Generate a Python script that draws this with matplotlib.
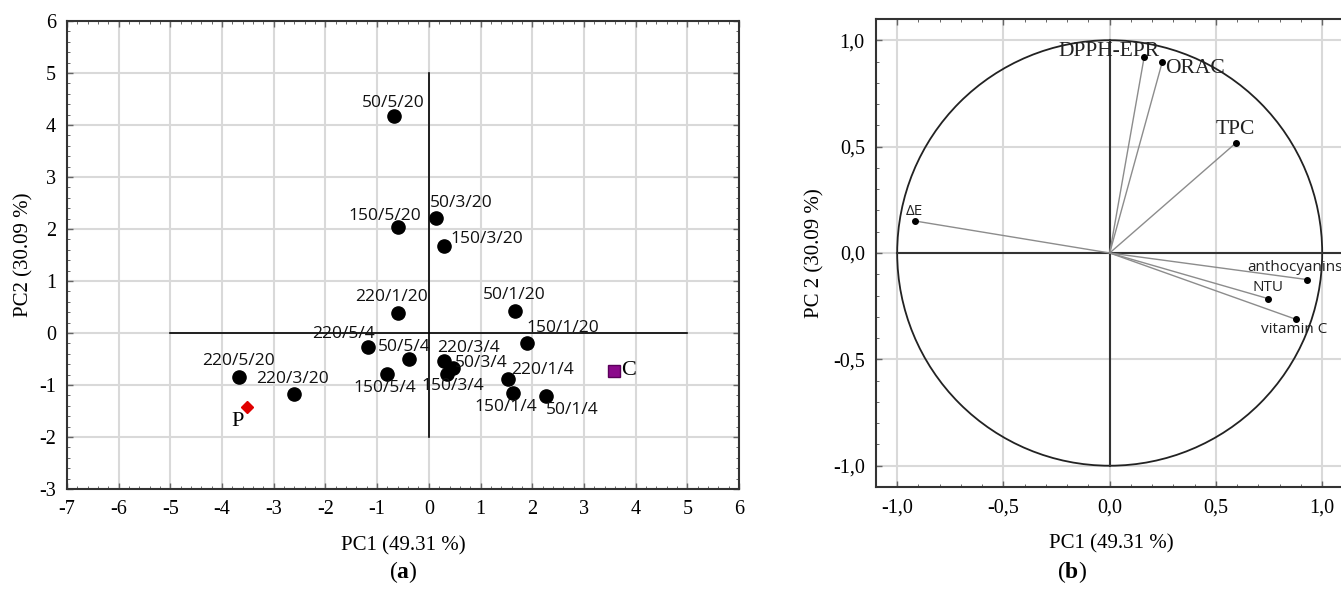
import numpy as np
import matplotlib
matplotlib.use("Agg")
import matplotlib.pyplot as plt
from matplotlib.patches import Circle
from matplotlib.ticker import MultipleLocator, FuncFormatter

plt.rcParams['axes.unicode_minus'] = False
plt.rcParams['mathtext.fontset'] = 'custom'
plt.rcParams['mathtext.rm'] = 'Liberation Serif'
plt.rcParams['mathtext.bf'] = 'Liberation Serif:bold'

SERIF = 'Liberation Serif'
SANS = 'Open Sans'

# ---- data: scores (panel a) ----
sample_names = ['50/5/20', '150/5/20', '50/3/20', '150/3/20', '220/1/20', '50/1/20',
                '150/1/20', '220/5/4', '50/5/4', '150/5/4', '220/3/4', '50/3/4',
                '150/3/4', '220/1/4', '150/1/4', '50/1/4', '220/5/20', '220/3/20']
pc1_scores = [-0.68, -0.60, 0.14, 0.30, -0.59, 1.67, 1.89, -1.18, -0.38, -0.80,
              0.29, 0.46, 0.36, 1.54, 1.63, 2.26, -3.68, -2.60]
pc2_scores = [4.17, 2.04, 2.21, 1.68, 0.39, 0.43, -0.20, -0.26, -0.50, -0.79,
              -0.53, -0.68, -0.78, -0.88, -1.15, -1.21, -0.85, -1.17]
# label anchor points (data units) and alignment
label_x = [-0.69, -0.85, 0.02, 0.41, -0.72, 1.66, 1.89, -1.66, -0.99, -0.85,
           0.77, 1.01, 0.46, 2.19, 1.49, 2.78, -3.68, -2.63]
label_y = [4.43, 2.25, 2.50, 1.81, 0.70, 0.73, 0.09, -0.01, -0.26, -1.05,
           -0.28, -0.58, -1.02, -0.71, -1.42, -1.48, -0.53, -0.89]
label_ha = ['center', 'center', 'left', 'left', 'center', 'center', 'left', 'center',
            'left', 'center', 'center', 'center', 'center', 'center', 'center',
            'center', 'center', 'center']

p_point = (-3.52, -1.42)
c_point = (3.58, -0.73)

# ---- data: loadings (panel b) ----
var_names = ['DPPH-EPR', 'ORAC', 'TPC', 'ΔE', 'anthocyanins', 'NTU', 'vitamin C']
pc1_load = [0.162, 0.248, 0.596, -0.914, 0.929, 0.747, 0.877]
pc2_load = [0.920, 0.900, 0.519, 0.150, -0.125, -0.215, -0.312]
var_lx = [0.235, 0.26, 0.593, -0.92, 0.645, 0.745, 0.87]
var_ly = [0.945, 0.867, 0.58, 0.197, -0.066, -0.163, -0.36]
var_ha = ['right', 'left', 'center', 'center', 'left', 'center', 'center']
var_font = [SERIF, SERIF, SERIF, SANS, SANS, SANS, SANS]
var_size = [15.5, 15.5, 15.5, 11, 11, 11, 11]

fig = plt.figure(figsize=(13.41, 5.91), dpi=100)

def style_axes(ax, minor):
    ax.grid(True, which='major', color='#d9d9d9', linewidth=1.5, zorder=0)
    ax.set_axisbelow(True)
    ax.xaxis.set_minor_locator(MultipleLocator(minor))
    ax.yaxis.set_minor_locator(MultipleLocator(minor))
    ax.tick_params(which='both', direction='in', top=True, right=True,
                   color='#666666')
    ax.tick_params(which='major', length=4, width=1, labelsize=14.5, pad=8)
    ax.tick_params(which='minor', length=2.5, width=0.7)
    for s in ax.spines.values():
        s.set_color('#333333')
        s.set_linewidth(1.5)
    for lab in ax.get_xticklabels() + ax.get_yticklabels():
        lab.set_fontfamily(SERIF)

# ---------------- panel a ----------------
ax1 = fig.add_axes([0.04996, 0.1726, 0.5011, 0.7919])
ax1.set_xlim(-7, 6)
ax1.set_ylim(-3, 6)
ax1.xaxis.set_major_locator(MultipleLocator(1))
ax1.yaxis.set_major_locator(MultipleLocator(1))
ax1.xaxis.set_major_formatter(FuncFormatter(lambda v, p: '%d' % round(v)))
ax1.yaxis.set_major_formatter(FuncFormatter(lambda v, p: '%d' % round(v)))
style_axes(ax1, 0.2)

ax1.plot([-5, 5], [0, 0], color='black', linewidth=1.2, zorder=2)
ax1.plot([0, 0], [-2, 5], color='black', linewidth=1.2, zorder=2)
ax1.plot(pc1_scores, pc2_scores, 'o', color='black', markersize=9.5, zorder=3)
for i in range(len(sample_names)):
    ax1.text(label_x[i], label_y[i], sample_names[i], ha=label_ha[i], va='center',
             fontsize=12.5, fontfamily=SANS, color='#111111', zorder=4)
ax1.plot([p_point[0]], [p_point[1]], 'D', color='#e00000', markersize=6, zorder=3)
ax1.text(-3.70, -1.71, 'P', ha='center', va='center', fontsize=16, fontfamily=SERIF)
ax1.plot([c_point[0]], [c_point[1]], 's', color='#8b0a8b', markeredgecolor='#5a005a',
         markersize=9, zorder=3)
ax1.text(3.72, -0.73, 'C', ha='left', va='center', fontsize=16, fontfamily=SERIF)

ax1.set_xlabel('PC1 (49.31 %)', fontsize=15, fontfamily=SERIF, labelpad=12)
ax1.set_ylabel('PC2 (30.09 %)', fontsize=15, fontfamily=SERIF, labelpad=4)

# ---------------- panel b ----------------
ax2 = fig.add_axes([0.6532, 0.176, 0.351, 0.7919])
ax2.set_xlim(-1.1, 1.115)
ax2.set_ylim(-1.1, 1.1)
ax2.xaxis.set_major_locator(MultipleLocator(0.5))
ax2.yaxis.set_major_locator(MultipleLocator(0.5))
comma = FuncFormatter(lambda v, p: ('%.1f' % v).replace('.', ','))
ax2.xaxis.set_major_formatter(comma)
ax2.yaxis.set_major_formatter(comma)
style_axes(ax2, 0.1)

ax2.add_patch(Circle((0, 0), 1.0, fill=False, edgecolor='#222222', linewidth=1.3, zorder=2))
ax2.plot([-1, 1.115], [0, 0], color='#333333', linewidth=1.5, zorder=2)
ax2.plot([0, 0], [-1, 1], color='#333333', linewidth=1.5, zorder=2)
for i in range(len(var_names)):
    ax2.plot([0, pc1_load[i]], [0, pc2_load[i]], color='#8c8c8c', linewidth=1, zorder=3)
ax2.plot(pc1_load, pc2_load, 'o', color='black', markersize=4, zorder=4)
for i in range(len(var_names)):
    ax2.text(var_lx[i], var_ly[i], var_names[i], ha=var_ha[i], va='center',
             fontsize=var_size[i], fontfamily=var_font[i], color='#222222', zorder=5)

ax2.set_xlabel('PC1 (49.31 %)', fontsize=15, fontfamily=SERIF, labelpad=12)
ax2.set_ylabel('PC 2 (30.09 %)', fontsize=15, fontfamily=SERIF, labelpad=6)

fig.text(403 / 1341, 1 - 572 / 591, r'($\mathbf{a}$)', ha='center', va='center',
         fontsize=17, fontfamily=SERIF)
fig.text(1072 / 1341, 1 - 572 / 591, r'($\mathbf{b}$)', ha='center', va='center',
         fontsize=17, fontfamily=SERIF)

fig.savefig('out.png', dpi=100)
